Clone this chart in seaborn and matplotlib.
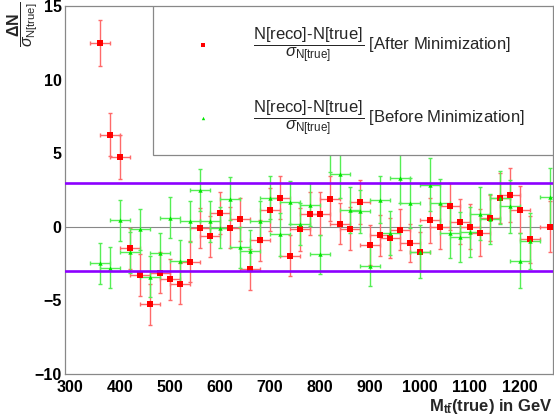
import numpy as np
import pandas as pd
import matplotlib
matplotlib.use("Agg")
import matplotlib.pyplot as plt
from matplotlib.patches import Rectangle
from matplotlib.ticker import MultipleLocator
import seaborn as sns

# Bin centres of M_tt(true) in GeV
mass = [360, 380, 400, 420, 440, 460, 480, 500, 520, 540,
        560, 580, 600, 620, 640, 660, 680, 700, 720, 740,
        760, 780, 800, 820, 840, 860, 880, 900, 920, 940,
        960, 980, 1000, 1020, 1040, 1060, 1080, 1100, 1120, 1140,
        1160, 1180, 1200, 1220, 1240, 1260]

# Pull after the minimization
after = [12.49, 6.27, 4.75, -1.47, -3.28, -5.27, -3.12, -3.58, -3.87, -2.36,
         -0.09, -0.64, 0.95, -0.05, 0.50, -2.90, -0.93, 1.17, 1.97, -1.97,
         -0.18, 0.90, 0.90, 1.92, 0.22, -0.12, 1.67, -1.22, -0.59, -0.77,
         -0.20, -1.09, -1.68, 0.43, 0.02, 1.38, 0.36, 0.02, -0.39, 0.61,
         1.95, 2.15, 1.17, -0.86, np.nan, 0.02]
after_err = [1.55, 1.47, 1.47, 1.40, 1.40, 1.40, 1.40, 1.40, 1.40, 1.40,
             1.38, 1.40, 1.42, 1.40, 1.45, 1.40, 1.40, 1.45, 1.45, 1.40,
             1.45, 1.47, 1.47, 1.55, 1.42, 1.45, 1.50, 1.36, 1.36, 1.36,
             1.40, 1.30, 1.35, 1.50, 1.55, 1.60, 1.55, 1.55, 1.60, 1.55,
             1.70, 1.85, 1.60, 1.60, 1.70, 1.70]

# Pull before the minimization
before = [-2.49, -2.78, 0.43, -1.72, -0.18, -3.40, -1.81, 0.61, -2.33, 0.38,
          2.49, 0.38, -0.05, 1.90, -1.38, -1.63, 0.38, 1.97, -0.52, 1.67,
          0.18, 1.51, -1.88, 5.30, 3.60, 1.15, 1.06, -2.65, 1.85, -0.43,
          3.33, 1.63, -1.70, 2.87, 1.63, -0.45, -0.70, -0.34, 0.88, 0.55,
          1.97, 1.40, -2.29, -0.95, np.nan, 2.01]
before_err = [1.40, 1.40, 1.40, 1.40, 1.40, 1.40, 1.40, 1.40, 1.40, 1.40,
              1.45, 1.40, 1.40, 1.45, 1.40, 1.40, 1.40, 1.45, 1.45, 1.45,
              1.45, 1.47, 1.33, 1.55, 1.65, 1.55, 1.45, 1.40, 1.60, 1.50,
              1.70, 1.70, 1.80, 1.80, 1.60, 1.70, 1.70, 1.70, 1.80, 1.70,
              1.80, 1.80, 1.90, 1.90, 1.90, 2.00]

half_width = 20  # horizontal error (GeV)

x_ticks = [300, 400, 500, 600, 700, 800, 900, 1000, 1100, 1200]

sns.set_theme(style="white")
plt.rcParams["font.family"] = ["Liberation Sans", "DejaVu Sans"]
plt.rcParams["mathtext.fontset"] = "custom"
plt.rcParams["mathtext.rm"] = "Liberation Sans"
plt.rcParams["mathtext.it"] = "Liberation Sans:italic"
plt.rcParams["mathtext.bf"] = "Liberation Sans:bold"
plt.rcParams["mathtext.sf"] = "Liberation Sans"

df = pd.DataFrame({"mass": mass * 2,
                   "pull": after + before,
                   "err": after_err + before_err,
                   "kind": ["after"] * len(mass) + ["before"] * len(mass)})

fig = plt.figure(figsize=(5.54, 4.15), dpi=100)
ax = fig.add_axes([65 / 554, 41 / 415, 488 / 554, 368 / 415])

styles = {"after": dict(ecolor="#ff6a6a", mcolor="#ff0000", marker="s", s=16),
          "before": dict(ecolor="#55ee55", mcolor="#00e600", marker="^", s=10)}

for kind in ["after", "before"]:
    sub = df[df["kind"] == kind].dropna()
    st = styles[kind]
    ax.errorbar(sub["mass"], sub["pull"], xerr=half_width, yerr=sub["err"],
                fmt="none", ecolor=st["ecolor"], elinewidth=1.0,
                capsize=1.5, capthick=1.0, zorder=2)
    sns.scatterplot(data=sub, x="mass", y="pull", ax=ax, color=st["mcolor"],
                    marker=st["marker"], s=st["s"], linewidth=0, zorder=3,
                    legend=False)

ax.axhline(0, color="#888888", lw=0.8, zorder=1)
for lvl in (3, -3):
    ax.axhline(lvl, color="#8c00ff", lw=1.9, zorder=4)

ax.set_xlim(290, 1266.7)
ax.set_ylim(-10, 15)
ax.set_xticks(x_ticks)
ax.xaxis.set_minor_locator(MultipleLocator(20))
ax.yaxis.set_major_locator(MultipleLocator(5))
ax.yaxis.set_minor_locator(MultipleLocator(1))

for sp in ax.spines.values():
    sp.set_color("#888888")
    sp.set_linewidth(0.9)

ax.tick_params(axis="both", which="both", direction="in", color="#888888",
               width=0.8, top=False, right=False)
ax.tick_params(axis="y", which="major", length=10.8, pad=2.5)
ax.tick_params(axis="y", which="minor", length=5.5)
ax.tick_params(axis="x", which="major", length=7.2, pad=4)
ax.tick_params(axis="x", which="minor", length=3.6)
for lab in ax.get_xticklabels() + ax.get_yticklabels():
    lab.set_fontweight("bold")
    lab.set_fontsize(11.5)
    lab.set_color("black")

ax.set_xlabel(r"$\mathbf{M}_{\mathbf{t\bar{t}}}$(true) in GeV", loc="right",
              fontsize=12, fontweight="bold", labelpad=2)
ax.set_ylabel("")
fig.text(23 / 554, 1 - 24 / 415,
         r"$\dfrac{\mathbf{\Delta N}}{\sigma_{\mathrm{N[true]}}}$",
         rotation=90, ha="center", va="center", fontsize=11.5)

# Legend box
ax.add_patch(Rectangle((0.18, 0.595), 0.82, 0.405, transform=ax.transAxes,
                       facecolor="white", edgecolor="#888888", lw=0.9,
                       zorder=6))
frac = r"$\dfrac{\mathrm{N[reco]‐N[true]}}{\sigma_{\mathrm{N[true]}}}$"
entries = [("after", 0.894, " [After Minimization]"),
           ("before", 0.696, " [Before Minimization]")]
for kind, yy, txt in entries:
    st = styles[kind]
    ax.scatter([0.282], [yy], transform=ax.transAxes, marker=st["marker"],
               s=st["s"] * 0.6, color=st["mcolor"], linewidths=0, zorder=7)
    ax.text(0.385, yy, frac + txt, transform=ax.transAxes, ha="left",
            va="center", fontsize=12, zorder=7)

fig.savefig("out.png", dpi=100, facecolor="white")
